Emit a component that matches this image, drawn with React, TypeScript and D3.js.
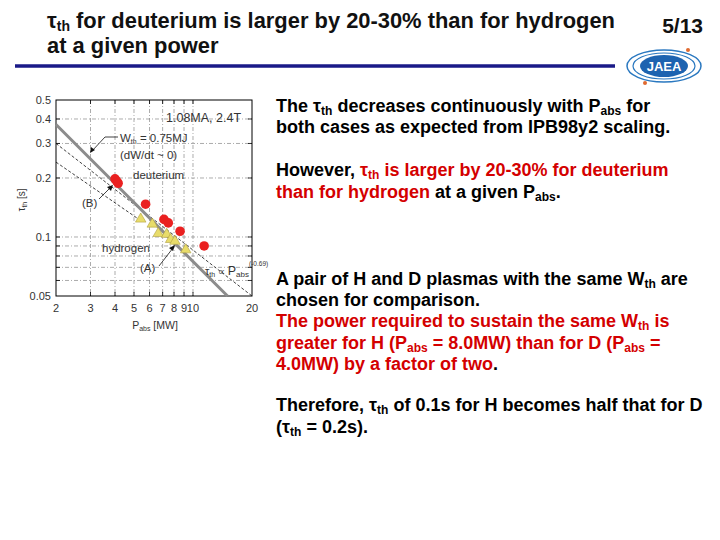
import React from "react";
import * as d3 from "d3";

// ---- data ----
const deutP = [4.0, 4.08, 4.15, 5.73, 7.11, 7.48, 8.59, 11.4];
const deutTau = [0.198, 0.193, 0.188, 0.147, 0.123, 0.118, 0.107, 0.09];
const hydP = [5.41, 6.2, 6.65, 7.34, 7.69, 8.09, 9.18];
const hydTau = [0.122, 0.115, 0.103, 0.102, 0.096, 0.094, 0.085];
const wthP = [2, 15];
const wthMJ = 0.75;
const dFitP = [2, 20];
const dFitTau = [0.3, 0.05];
const hFitP = [2, 5.3];
const hFitTau = [0.241, 0.123];
const xTicks = [2, 3, 4, 5, 6, 7, 8, 9, 10, 20];
const xTickLabels = ["2", "3", "4", "5", "6", "7", "8", "9", "10", "20"];
const yTicks = [0.05, 0.1, 0.2, 0.3, 0.4, 0.5];
const yTickLabels = ["0.05", "0.1", "0.2", "0.3", "0.4", "0.5"];
const xGrid = [3, 4, 5, 6, 7, 8, 9, 10];
const yGrid = [0.06, 0.07, 0.08, 0.09, 0.1, 0.2, 0.3, 0.4];

type Seg = { t: string; sub?: boolean; red?: boolean };
const bodyLines: Seg[][] = [
  [{ t: "The " }, { t: "τ" }, { t: "th", sub: true }, { t: " decreases continuously with P" }, { t: "abs", sub: true }, { t: " for" }],
  [{ t: "both cases as expected from IPB98y2 scaling." }],
  [{ t: "However, " }, { t: "τ", red: true }, { t: "th", sub: true, red: true }, { t: " is larger by 20-30% for deuterium", red: true }],
  [{ t: "than for hydrogen", red: true }, { t: " at a given P" }, { t: "abs", sub: true }, { t: "." }],
  [{ t: "A pair of H and D plasmas with the same W" }, { t: "th", sub: true }, { t: " are" }],
  [{ t: "chosen for comparison." }],
  [{ t: "The power required to sustain the same W", red: true }, { t: "th", sub: true, red: true }, { t: " is", red: true }],
  [{ t: "greater for H (P", red: true }, { t: "abs", sub: true, red: true }, { t: " = 8.0MW) than for D (P", red: true }, { t: "abs", sub: true, red: true }, { t: " =", red: true }],
  [{ t: "4.0MW) by a factor of two", red: true }, { t: "." }],
  [{ t: "Therefore, " }, { t: "τ" }, { t: "th", sub: true }, { t: " of 0.1s for H becomes half that for D" }],
  [{ t: "(" }, { t: "τ" }, { t: "th", sub: true }, { t: " = 0.2s)." }],
];
const bodyBaselines = [111.5, 133, 176, 198, 285, 306, 327, 349, 370, 411, 433];

const RED = "#d40000";
const FONT = "'Liberation Sans', Arial, sans-serif";

function Rich({ segs, x, y, size, subSize }: { segs: Seg[]; x: number; y: number; size: number; subSize: number }) {
  const out: React.ReactNode[] = [];
  let down = false;
  segs.forEach((s, i) => {
    let dy = 0;
    if (s.sub && !down) { dy = 3; down = true; }
    else if (!s.sub && down) { dy = -3; down = false; }
    out.push(
      <tspan key={i} dy={dy} fontSize={s.sub ? subSize : size} fill={s.red ? RED : "#000"}>
        {s.t}
      </tspan>
    );
  });
  return (
    <text x={x} y={y} fontFamily={FONT} fontWeight="bold" fontSize={size}>
      {out}
    </text>
  );
}

export default function App() {
  const x = d3.scaleLog().domain([2, 20]).range([56, 252]);
  const y = d3.scaleLog().domain([0.05, 0.5]).range([296, 100]);
  const line = d3.line<[number, number]>().x((d) => x(d[0])).y((d) => y(d[1]));

  const wthPts: [number, number][] = wthP.map((p) => [p, wthMJ / p]);
  const dFit: [number, number][] = dFitP.map((p, i) => [p, dFitTau[i]]);
  const hFit: [number, number][] = hFitP.map((p, i) => [p, hFitTau[i]]);
  const tri = d3.symbol().type(d3.symbolTriangle).size(48)();

  const gray = "#333";
  return (
    <svg width={720} height={540} style={{ position: "absolute", left: 0, top: 0, background: "#fff" }}>
      <rect width={720} height={540} fill="#fff" />
      {/* title */}
      <text x={47} y={28} fontFamily={FONT} fontSize={21.9} fontWeight="bold" fill="#111">
        <tspan>τ</tspan>
        <tspan dy={3} fontSize={14}>th</tspan>
        <tspan dy={-3}> for deuterium is larger by 20-30% than for hydrogen</tspan>
      </text>
      <text x={47} y={53} fontFamily={FONT} fontSize={21.9} fontWeight="bold" fill="#111">at a given power</text>
      <text x={703} y={33} textAnchor="end" fontFamily={FONT} fontSize={21} fontWeight="bold" fill="#111">5/13</text>
      <line x1={15} x2={615} y1={66} y2={66} stroke="#1a1a88" strokeWidth={3.5} />
      {/* logo */}
      <g>
        <ellipse cx={664} cy={66} rx={37} ry={16} fill="none" stroke="#2a78c0" strokeWidth={1.5} />
        <ellipse cx={664} cy={66} rx={31} ry={13} fill="none" stroke="#2a78c0" strokeWidth={1.2} />
        <ellipse cx={664} cy={66} rx={24} ry={11} fill="#1d63b0" />
        <text x={664} y={71} textAnchor="middle" fontFamily={FONT} fontWeight="bold" fontSize={13} fill="#fff">JAEA</text>
        <circle cx={688} cy={50} r={2} fill="#e06a30" />
        <circle cx={645} cy={83} r={2} fill="#e06a30" />
      </g>

      {/* chart */}
      <g fontFamily={FONT} fill={gray}>
        {xGrid.map((v) => (
          <line key={"gx" + v} x1={x(v)} x2={x(v)} y1={100} y2={296} stroke="#888" strokeWidth={0.7} strokeDasharray="4,2,1,2" />
        ))}
        {yGrid.map((v) => (
          <line key={"gy" + v} x1={56} x2={252} y1={y(v)} y2={y(v)} stroke="#888" strokeWidth={0.7} strokeDasharray="4,2,1,2" />
        ))}
        {xGrid.map((v) => (
          <g key={"tx" + v}>
            <line x1={x(v)} x2={x(v)} y1={296} y2={292} stroke="#000" strokeWidth={0.8} />
            <line x1={x(v)} x2={x(v)} y1={100} y2={104} stroke="#000" strokeWidth={0.8} />
          </g>
        ))}
        {yGrid.map((v) => (
          <g key={"ty" + v}>
            <line x1={56} x2={60} y1={y(v)} y2={y(v)} stroke="#000" strokeWidth={0.8} />
            <line x1={252} x2={248} y1={y(v)} y2={y(v)} stroke="#000" strokeWidth={0.8} />
          </g>
        ))}
        <rect x={56} y={100} width={196} height={196} fill="none" stroke="#000" strokeWidth={1} />
        {xTicks.map((v, i) => (
          <text key={"xl" + v} x={x(v)} y={312} textAnchor="middle" fontSize={11}>{xTickLabels[i]}</text>
        ))}
        {yTicks.map((v, i) => (
          <text key={"yl" + v} x={51} y={y(v) + 4} textAnchor="end" fontSize={11}>{yTickLabels[i]}</text>
        ))}
        <text x={155} y={329} textAnchor="middle" fontSize={10.5}>
          P<tspan dy={2} fontSize={7}>abs</tspan><tspan dy={-2}> [MW]</tspan>
        </text>
        <text transform="translate(25,200) rotate(-90)" textAnchor="middle" fontSize={10}>
          τ<tspan dy={2} fontSize={7}>th</tspan><tspan dy={-2}> [s]</tspan>
        </text>

        <path d={line(dFit) || ""} fill="none" stroke="#111" strokeWidth={0.8} strokeDasharray="3,2" />
        <path d={line(hFit) || ""} fill="none" stroke="#111" strokeWidth={0.8} strokeDasharray="3,2" />
        <path d={line(wthPts) || ""} fill="none" stroke="#8c8c8c" strokeWidth={3} />

        {hydP.map((p, i) => (
          <path key={"h" + i} d={tri || ""} transform={`translate(${x(p)},${y(hydTau[i]) - 1})`} fill="#e8dc6a" stroke="#b0a040" strokeWidth={0.6} />
        ))}
        {deutP.map((p, i) => (
          <circle key={"d" + i} cx={x(p)} cy={y(deutTau[i])} r={4.8} fill="#ea2020" />
        ))}

        <text x={166} y={122} fontSize={12.5}>1.08MA, 2.4T</text>
        <text x={120} y={142} fontSize={11.5}>
          W<tspan dy={2} fontSize={7}>th</tspan><tspan dy={-2}> = 0.75MJ</tspan>
        </text>
        <text x={120} y={159} fontSize={11.5}>(dW/dt ~ 0)</text>
        <text x={133} y={179} fontSize={11.5}>deuterium</text>
        <text x={102} y={252} fontSize={11.5}>hydrogen</text>
        <text x={82} y={207} fontSize={11.5}>(B)</text>
        <text x={140} y={272} fontSize={11.5}>(A)</text>
        <text x={205} y={275} fontSize={11}>
          τ<tspan dy={2} fontSize={7}>th</tspan><tspan dy={-2} fontSize={10}> ∝ </tspan><tspan fontSize={12.5}>P</tspan><tspan dy={2} fontSize={8}>abs</tspan>
          <tspan dy={-11} fontSize={6.5}>(-0.69)</tspan>
        </text>

        {/* arrows */}
        <polyline points="118,137 105,137 92,151" fill="none" stroke="#111" strokeWidth={0.8} />
        <path d="M90,153 L91,147 L95,150 Z" fill="#111" />
        <line x1={99} y1={199} x2={111} y2={187} stroke="#111" strokeWidth={0.8} />
        <path d="M113,185 L107,187 L111,191 Z" fill="#111" />
        <line x1={159} y1={266} x2={173} y2={248} stroke="#111" strokeWidth={0.8} />
        <path d="M175,245 L169,248 L173,251 Z" fill="#111" />
      </g>

      {bodyLines.map((segs, i) => (
        <Rich key={"b" + i} segs={segs} x={276} y={bodyBaselines[i]} size={18} subSize={12} />
      ))}
    </svg>
  );
}
